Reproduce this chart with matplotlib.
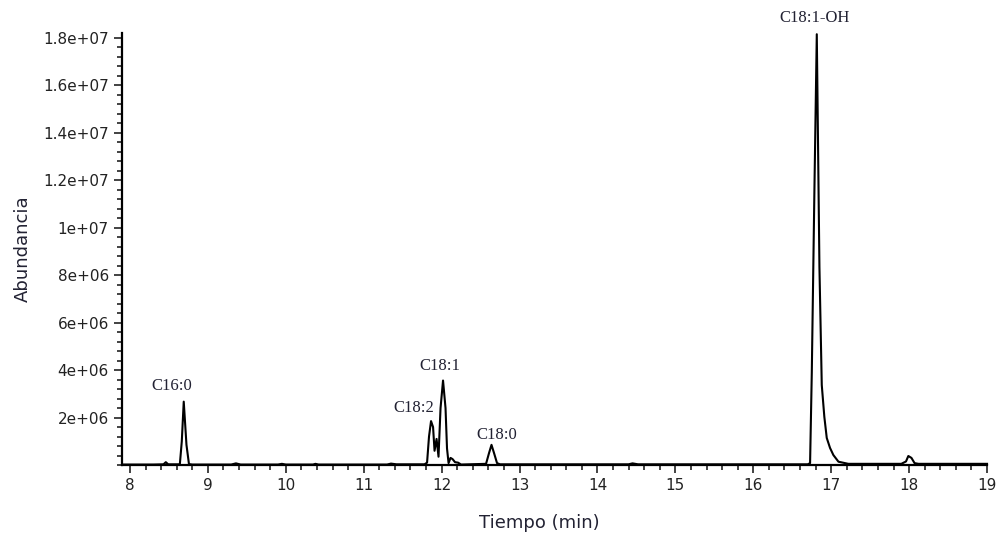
import matplotlib
matplotlib.use("Agg")
import matplotlib.pyplot as plt
from matplotlib.ticker import FixedLocator, MultipleLocator, FuncFormatter

# chromatogram trace (time in min, abundance in counts)
time = [7.90, 8.30, 8.43, 8.46, 8.49, 8.64, 8.665, 8.69, 8.725, 8.757, 8.80,
        9.30, 9.36, 9.42, 9.90, 9.95, 10.00, 10.35, 10.38, 10.42, 11.30, 11.35,
        11.42, 11.78, 11.813, 11.838, 11.864, 11.890, 11.909, 11.935, 11.960,
        11.986, 12.018, 12.050, 12.069, 12.089, 12.114, 12.140, 12.172, 12.211,
        12.249, 12.57, 12.608, 12.64, 12.673, 12.711, 12.75, 14.40, 14.45,
        14.52, 16.70, 16.729, 16.751, 16.784, 16.815, 16.849, 16.879, 16.912,
        16.943, 16.985, 17.028, 17.093, 17.22, 17.90, 17.96, 17.99, 18.03,
        18.07, 18.12, 19.00]
abundance = [0.02, 0.02, 0.03, 0.12, 0.03, 0.03, 1.0, 2.67, 0.85, 0.04, 0.02,
             0.02, 0.07, 0.02, 0.02, 0.05, 0.02, 0.02, 0.05, 0.02, 0.02, 0.06,
             0.03, 0.03, 0.10, 1.20, 1.85, 1.60, 0.60, 1.10, 0.35,
             2.40, 3.56, 2.40, 0.70, 0.08, 0.30, 0.25, 0.12, 0.10,
             0.02, 0.05, 0.50, 0.85, 0.50, 0.08, 0.03, 0.03, 0.07,
             0.03, 0.03, 0.08, 3.90, 11.45, 18.15, 8.34, 3.37, 2.03,
             1.14, 0.72, 0.42, 0.14, 0.05, 0.05, 0.15, 0.38, 0.30,
             0.08, 0.05, 0.05]
abundance = [a * 1e6 for a in abundance]

peak_names = ["C16:0", "C18:2", "C18:1", "C18:0", "C18:1-OH"]
label_x = [8.54, 11.646, 11.98, 12.71, 16.79]
label_y = [3.33e6, 2.40e6, 4.17e6, 1.26e6, 1.885e7]

y_ticks = [2e6, 4e6, 6e6, 8e6, 1e7, 1.2e7, 1.4e7, 1.6e7, 1.8e7]
x_ticks = list(range(8, 20))

tick_font = ["DejaVu Sans"]
serif_font = ["Liberation Serif", "DejaVu Serif"]


def sci_label(v, pos):
    # 2e+06, 1.2e+07 ... like the instrument software
    mant, exp = ("%e" % v).split("e")
    mant = ("%.1f" % float(mant)).rstrip("0").rstrip(".")
    return "%se%+03d" % (mant, int(exp))


fig = plt.figure(figsize=(9.98, 5.35), dpi=100)
ax = fig.add_axes([0.1222, 0.1308, 0.8668, 0.807])

ax.plot(time, abundance, color="black", lw=1.5, clip_on=False)

ax.set_xlim(7.897, 19.0)
ax.set_ylim(0, 1.819e7)

ax.spines["top"].set_visible(False)
ax.spines["right"].set_visible(False)
for side in ("left", "bottom"):
    ax.spines[side].set_linewidth(1.6)

ax.xaxis.set_major_locator(FixedLocator(x_ticks))
ax.xaxis.set_minor_locator(MultipleLocator(0.2))
ax.yaxis.set_major_locator(FixedLocator(y_ticks))
ax.yaxis.set_minor_locator(MultipleLocator(4e5))
ax.yaxis.set_major_formatter(FuncFormatter(sci_label))

ax.tick_params(which="major", length=6, width=1.2, colors="#222222",
               labelsize=11)
ax.tick_params(which="minor", length=3.5, width=1.2, colors="#222222")

ax.set_xlabel("Tiempo (min)", family=tick_font, fontsize=13, color="#222233")
ax.set_ylabel("Abundancia", family=tick_font, fontsize=13, color="#222233",
              labelpad=8)
ax.xaxis.set_label_coords(0.483, -0.113)

for name, lx, ly in zip(peak_names, label_x, label_y):
    ax.text(lx, ly, name, family=serif_font, fontsize=12, color="#222233",
            ha="center", va="center", clip_on=False)

fig.savefig("out.png", dpi=100)
